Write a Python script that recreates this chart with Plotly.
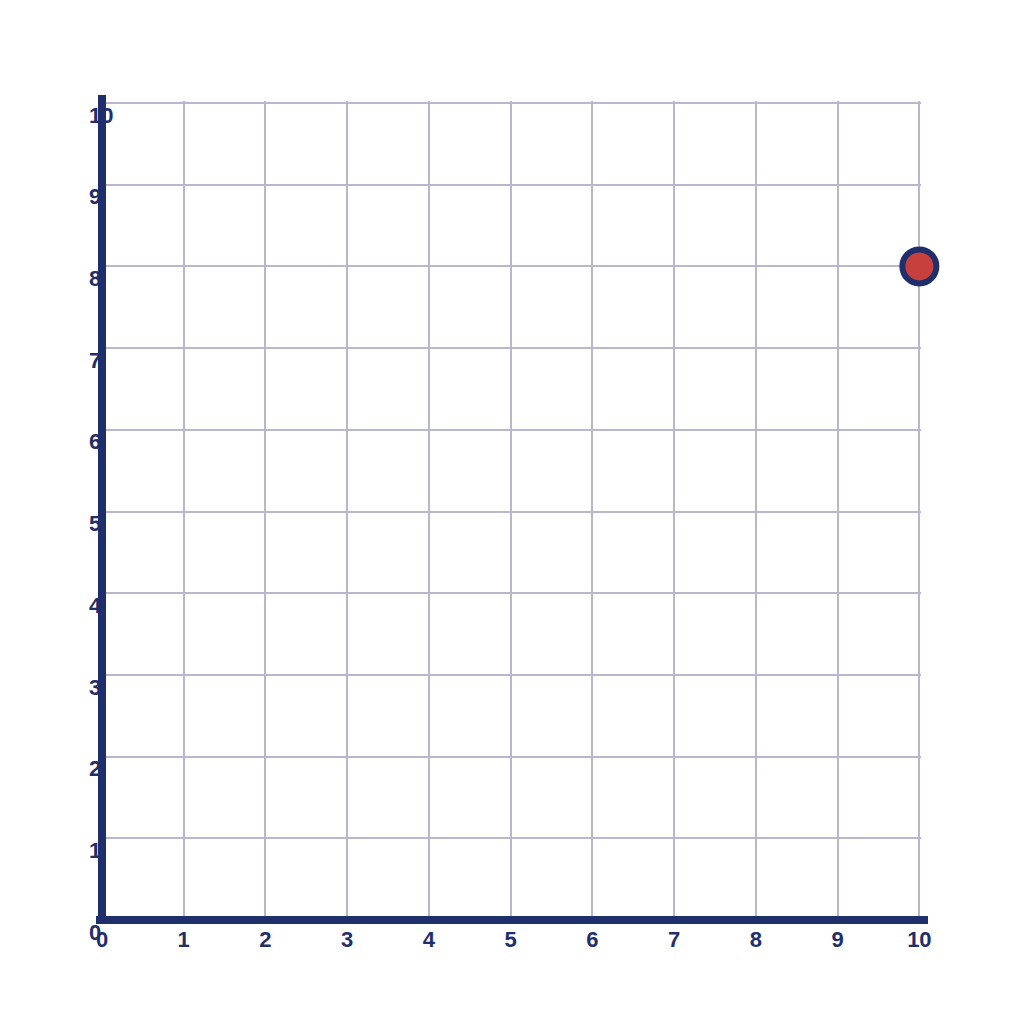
import plotly.graph_objects as go

# data
point_x = [10]
point_y = [8]
tick_vals = list(range(0, 11))
tick_text = [str(v) for v in tick_vals]

navy = '#1f2f6b'
grid = '#b8b7cc'
red = '#c8403e'

# plot box in pixels (figure coords)
L, R, T, B = 60, 111, 88, 112
PW = 1024 - L - R      # paper width
PH = 1024 - T - B      # paper height
X0 = 34                # x=0 offset inside paper
LIFT = 3.5             # y labels sit a little higher than plotly puts them

fig = go.Figure()
fig.add_trace(go.Scatter(
    x=point_x, y=point_y, mode='markers',
    marker=dict(size=34, color=red, line=dict(color=navy, width=6)),
    cliponaxis=False, hoverinfo='skip'
))
# invisible copy so the label axis on the left gets drawn
fig.add_trace(go.Scatter(
    x=point_x, y=point_y, xaxis='x2', yaxis='y2', mode='markers',
    marker=dict(opacity=0), hoverinfo='skip', cliponaxis=False
))

axis_font = dict(family='Liberation Sans, Arial', size=22, color=navy, weight='bold')

# axis lines, a bit longer than the grid like the original
fig.add_shape(type='line', xref='paper', yref='paper',
              x0=(X0 - 6) / PW, x1=(X0 + 826) / PW, y0=0, y1=0,
              line=dict(color=navy, width=8), layer='above')
fig.add_shape(type='line', xref='paper', yref='paper',
              x0=X0 / PW, x1=X0 / PW, y0=-4 / PH, y1=825 / PH,
              line=dict(color=navy, width=8), layer='above')

plot_h = 818.6
fig.update_layout(
    width=1024, height=1024,
    margin=dict(l=L, r=R, t=T, b=B),
    plot_bgcolor='rgba(0,0,0,0)', paper_bgcolor='white',
    showlegend=False,
    xaxis=dict(
        domain=[X0 / PW, 1], range=[0, 10.02], tickvals=tick_vals, ticktext=tick_text,
        showgrid=True, gridcolor=grid, gridwidth=2, zeroline=False, showline=False,
        tickfont=axis_font, ticks='', ticklabelstandoff=4, fixedrange=True
    ),
    xaxis2=dict(
        domain=[X0 / PW, 1], range=[0, 10.02], anchor='y2', visible=False,
        showgrid=False, zeroline=False, fixedrange=True
    ),
    yaxis=dict(
        domain=[0, plot_h / PH], range=[0, 10.02], tickvals=tick_vals, showticklabels=False,
        showgrid=True, gridcolor=grid, gridwidth=2, zeroline=False, showline=False,
        ticks='', fixedrange=True
    ),
    yaxis2=dict(
        domain=[LIFT / PH, (plot_h + LIFT) / PH], anchor='free', side='right',
        position=20 / PW, range=[0, 10.02], tickvals=tick_vals, ticktext=tick_text,
        showgrid=False, zeroline=False, showline=False, ticks='',
        tickfont=axis_font, ticklabelposition='outside bottom', fixedrange=True
    ),
)
fig.write_html("out.html")
